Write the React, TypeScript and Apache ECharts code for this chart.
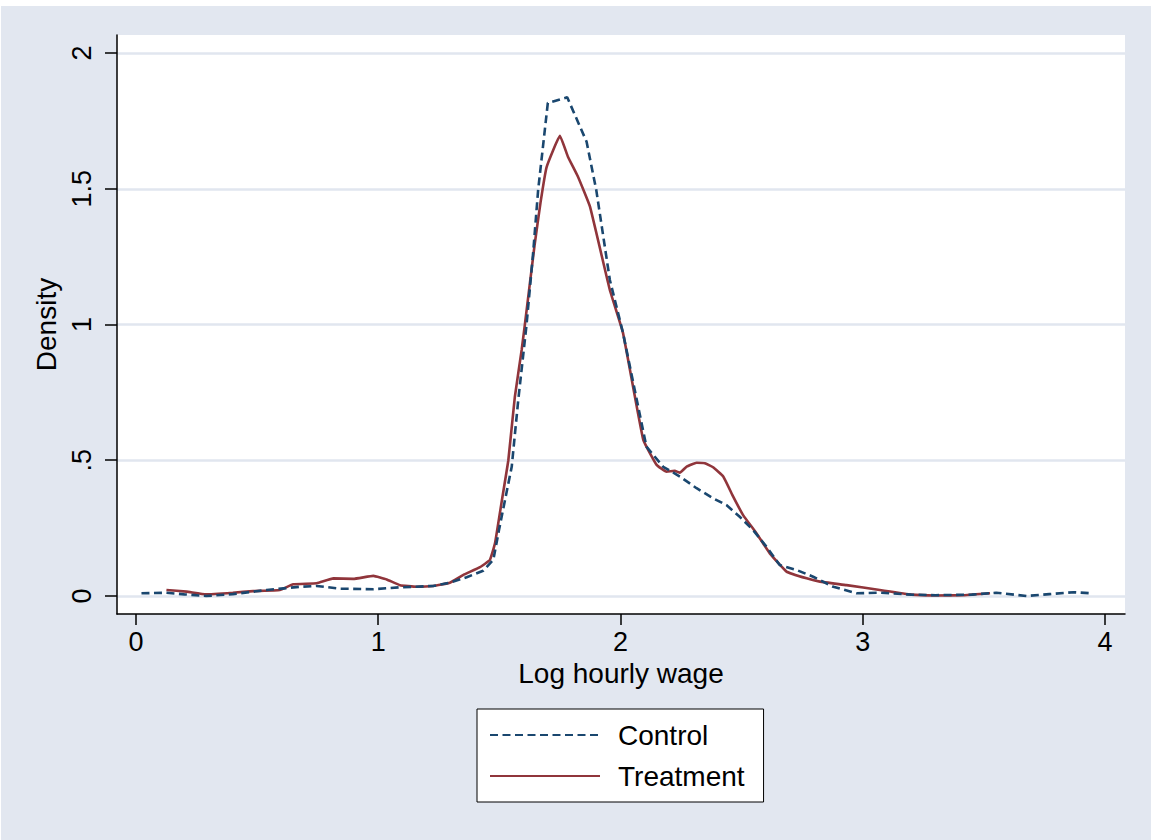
import React, { useEffect, useRef } from "react";
import * as echarts from "echarts";

const controlX = [0.023, 0.126, 0.2, 0.29, 0.4, 0.54, 0.677, 0.746, 0.842, 0.98, 1.09, 1.227, 1.296, 1.365, 1.433, 1.475, 1.5, 1.551, 1.578, 1.612, 1.64, 1.66, 1.7, 1.78, 1.86, 1.9, 1.956, 2.01, 2.107, 2.176, 2.245, 2.314, 2.382, 2.437, 2.492, 2.547, 2.602, 2.657, 2.726, 2.795, 2.878, 2.974, 3.07, 3.2, 3.3, 3.45, 3.55, 3.675, 3.77, 3.87, 3.94];
const controlY = [0.01, 0.012, 0.006, 0.0, 0.007, 0.022, 0.034, 0.037, 0.027, 0.025, 0.032, 0.037, 0.049, 0.069, 0.093, 0.133, 0.25, 0.476, 0.722, 0.998, 1.27, 1.495, 1.816, 1.837, 1.673, 1.495, 1.164, 0.97, 0.55, 0.476, 0.44, 0.397, 0.36, 0.335, 0.292, 0.243, 0.182, 0.114, 0.096, 0.071, 0.034, 0.01, 0.012, 0.005, 0.003, 0.005, 0.012, 0.0, 0.007, 0.014, 0.01];

const treatX = [0.126, 0.209, 0.29, 0.4, 0.484, 0.594, 0.649, 0.746, 0.815, 0.897, 0.98, 1.035, 1.09, 1.158, 1.227, 1.296, 1.35, 1.42, 1.461, 1.482, 1.51, 1.537, 1.564, 1.592, 1.605, 1.645, 1.67, 1.695, 1.75, 1.783, 1.824, 1.874, 1.956, 2.01, 2.094, 2.149, 2.19, 2.224, 2.245, 2.272, 2.314, 2.348, 2.382, 2.424, 2.465, 2.506, 2.561, 2.616, 2.685, 2.768, 2.823, 2.933, 3.07, 3.2, 3.3, 3.42, 3.525];
const treatY = [0.022, 0.016, 0.006, 0.012, 0.018, 0.022, 0.043, 0.047, 0.065, 0.063, 0.074, 0.061, 0.04, 0.034, 0.037, 0.049, 0.077, 0.106, 0.133, 0.194, 0.35, 0.5, 0.734, 0.906, 0.998, 1.29, 1.45, 1.58, 1.695, 1.618, 1.545, 1.434, 1.127, 0.97, 0.575, 0.483, 0.458, 0.461, 0.454, 0.476, 0.491, 0.489, 0.474, 0.44, 0.366, 0.298, 0.231, 0.157, 0.09, 0.065, 0.053, 0.04, 0.022, 0.005, 0.002, 0.003, 0.01];

const xTicks = [0, 1, 2, 3, 4];
const yTicks = [0, 0.5, 1, 1.5, 2];
const yTickLabels = ["0", ".5", "1", "1.5", "2"];
const seriesNames = ["Control", "Treatment"];

const FONT = "'Liberation Sans', Arial, Helvetica, sans-serif";

export default function App() {
  const ref = useRef<HTMLDivElement>(null);
  useEffect(() => {
    if (!ref.current) return;
    const chart = echarts.init(ref.current, undefined, { renderer: "svg" });
    const pairs = (xs: number[], ys: number[]) => xs.map((x, i) => [x, ys[i]]);
    chart.setOption({
      animation: false,
      backgroundColor: "#E2E7F0",
      textStyle: { fontFamily: FONT },
      grid: {
        left: 116,
        top: 29,
        right: 26,
        bottom: 226,
        show: true,
        backgroundColor: "#ffffff",
        borderWidth: 0,
        containLabel: false,
      },
      legend: {
        orient: "vertical",
        left: 476,
        top: 703,
        backgroundColor: "#ffffff",
        borderColor: "#000000",
        borderWidth: 1,
        padding: [12, 19, 12, 12],
        itemWidth: 110,
        itemHeight: 14,
        itemGap: 13,
        itemStyle: { opacity: 0 },
        data: seriesNames,
        textStyle: { fontSize: 28, color: "#000", fontFamily: FONT, padding: [0, 0, 0, 13] },
        selectedMode: false,
      },
      xAxis: {
        type: "value",
        min: -0.078,
        max: 4.082,
        name: "Log hourly wage",
        nameLocation: "middle",
        nameGap: 42,
        nameTextStyle: { fontSize: 28, color: "#000", fontFamily: FONT },
        axisLine: { show: true, onZero: false, lineStyle: { color: "#000", width: 1.5 } },
        axisTick: { show: true, length: 11, customValues: xTicks, lineStyle: { color: "#000", width: 1.5 } },
        axisLabel: { customValues: xTicks, fontSize: 27, color: "#000", margin: 14, fontFamily: FONT, formatter: (v: number) => String(v) },
        splitLine: { show: false },
      },
      yAxis: {
        type: "value",
        min: -0.0663,
        max: 2.0663,
        name: "Density",
        nameLocation: "middle",
        nameRotate: 90,
        nameGap: 55,
        nameTextStyle: { fontSize: 28, color: "#000", fontFamily: FONT },
        axisLine: { show: true, onZero: false, lineStyle: { color: "#000", width: 1.5 } },
        axisTick: { show: true, length: 12, customValues: yTicks, lineStyle: { color: "#000", width: 1.5 } },
        axisLabel: {
          customValues: yTicks,
          rotate: 90,
          fontSize: 27,
          color: "#000",
          margin: 22,
          fontFamily: FONT,
          formatter: (v: number) => {
            const i = yTicks.findIndex((t) => Math.abs(t - v) < 1e-6);
            return i >= 0 ? yTickLabels[i] : "";
          },
        },
        splitLine: { show: true, lineStyle: { color: "#E1E6EF", width: 2.5 } },
      },
      series: [
        {
          name: seriesNames[0],
          type: "line",
          data: pairs(controlX, controlY),
          symbol: "none",
          smooth: false,
          z: 3,
          lineStyle: { color: "#1a476f", width: 2.6, type: [8, 4.5] },
          itemStyle: { color: "#1a476f" },
        },
        {
          name: seriesNames[1],
          type: "line",
          data: pairs(treatX, treatY),
          symbol: "none",
          smooth: 0.1,
          z: 2,
          lineStyle: { color: "#90353b", width: 2.6, type: "solid" },
          itemStyle: { color: "#90353b" },
        },
      ],
    });
    return () => chart.dispose();
  }, []);
  return (
    <div style={{ position: "absolute", left: 0, top: 0, width: 1151, height: 840, background: "#ffffff" }}>
      <div ref={ref} style={{ position: "absolute", left: 1, top: 6, width: 1150, height: 834 }} />
    </div>
  );
}
